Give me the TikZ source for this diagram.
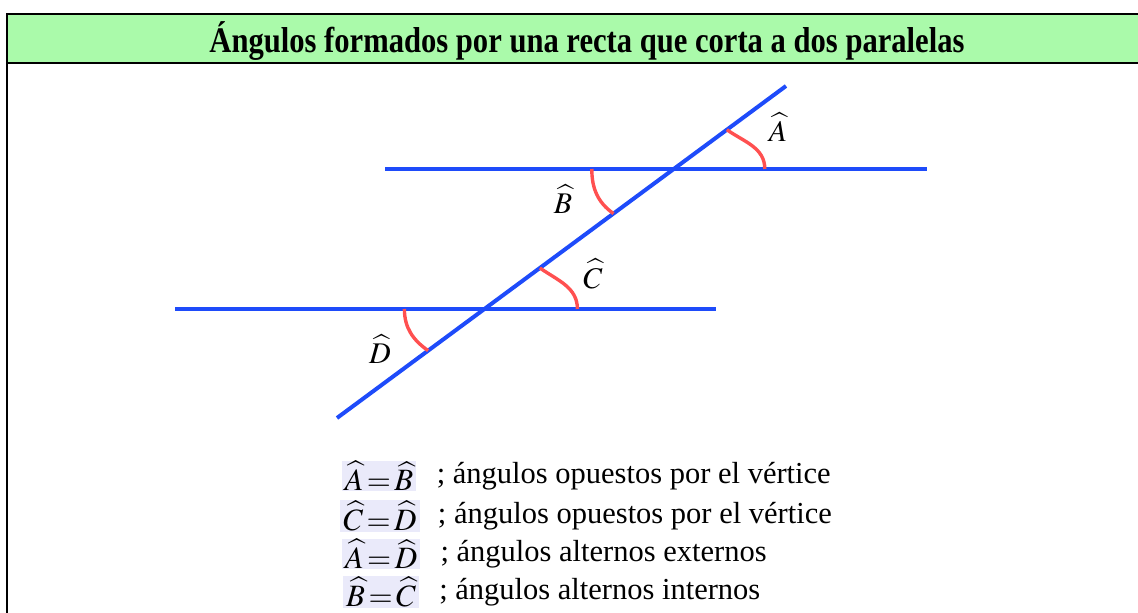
\documentclass[tikz,border=0pt]{standalone}
\usepackage{mathptmx}
\usepackage[no-math]{fontspec}
\setmainfont{Liberation Serif}
\usepackage{amsmath}
\usetikzlibrary{calc,positioning}
\definecolor{azul}{RGB}{30,75,250}
\definecolor{rojo}{RGB}{255,80,80}
\definecolor{verde}{RGB}{170,250,170}
\definecolor{lila}{RGB}{234,234,250}
\tikzset{
    % rectas
    recta/.style={line width=4pt, azul},
    % arcos de los angulos
    arco/.style={line width=3.4pt, rojo},
    etiqueta/.style={font=\fontsize{30}{31}\selectfont},
    igualdad/.style={fill=lila, inner xsep=3pt, inner ysep=0.5pt,
        font=\fontsize{31}{32}\selectfont},
    nota/.style={anchor=west, inner sep=0pt, font=\fontsize{30.5}{32}\selectfont},
    marco/.style={line width=2pt, black}
}

\begin{document}
\begin{tikzpicture}[x=1pt,y=1pt]
    \useasboundingbox (0,0) rectangle (1138,613);
    \clip (0,0) rectangle (1138,613);

    % ===== marco y titulo =====
    \draw[marco, fill=verde] (6.5,550) rectangle (1160,599);
    \draw[marco] (6.5,550) -- (6.5,-10);
    \node[font=\fontsize{36}{38}\selectfont\bfseries, xscale=0.85] (titulo) at (587,572)
        {Ángulos formados por una recta que corta a dos paralelas};

    % ===== puntos =====
    \path
    (385,444) coordinate (p1)
    (927,444) coordinate (p2)
    (175,304) coordinate (q1)
    (716,304) coordinate (q2)
    (337,195) coordinate (t1)
    (786,527) coordinate (t2)
    (673.8,444) coordinate (i1)
    (484.4,304) coordinate (i2)
    ;

    % paralelas y secante
    \draw[recta] (p1) -- (p2);
    \draw[recta] (q1) -- (q2);
    \draw[recta] (t1) -- (t2);

    % arcos
    \draw[arco] ($(i1)+(91,0)$) to[out=90,in=-35] ($(i1)!66pt!(t2)$);
    \draw[arco] ($(i1)+(-82,0)$) to[out=-90,in=145] ($(i1)!75pt!(t1)$);
    \draw[arco] ($(i2)+(93,0)$) to[out=90,in=-35] ($(i2)!69pt!(t2)$);
    \draw[arco] ($(i2)+(-80,0)$) to[out=-90,in=145] ($(i2)!70pt!(t1)$);

    % etiquetas
    \node[etiqueta] (la) at (778,486) {$\widehat{A}$};
    \node[etiqueta] (lb) at (563,414) {$\widehat{B}$};
    \node[etiqueta] (lc) at (593,339) {$\widehat{C}$};
    \node[etiqueta] (ld) at (380,264) {$\widehat{D}$};

    % ===== igualdades =====
    \node[igualdad] (ab) at (379,137) {$\widehat{A}\!=\!\widehat{B}$};
    \node[nota, right=20pt of ab] (nab) {; ángulos opuestos por el vértice};
    \node[igualdad] (cd) at (380,97) {$\widehat{C}\!=\!\widehat{D}$};
    \node[nota, right=18pt of cd] (ncd) {; ángulos opuestos por el vértice};
    \node[igualdad] (ad) at (381,59) {$\widehat{A}\!=\!\widehat{D}$};
    \node[nota, right=20pt of ad] (nad) {; ángulos alternos externos};
    \node[igualdad] (bc) at (381,21) {$\widehat{B}\!=\!\widehat{C}$};
    \node[nota, right=20pt of bc] (nbc) {; ángulos alternos internos};
\end{tikzpicture}
\end{document}
